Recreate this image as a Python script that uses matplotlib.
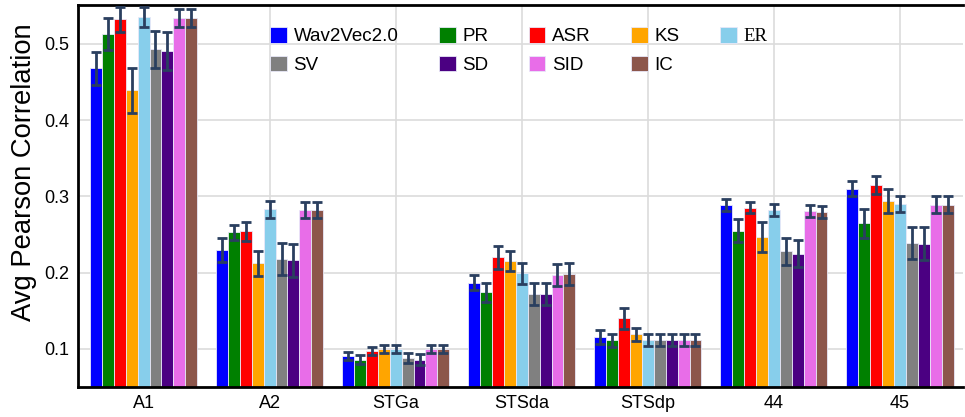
import matplotlib
matplotlib.use("Agg")
import matplotlib.pyplot as plt
import numpy as np

plt.rcParams["font.family"] = ["Liberation Sans", "DejaVu Sans"]

categories = ["A1", "A2", "STGa", "STSda", "STSdp", "44", "45"]
series_names = ["Wav2Vec2.0", "PR", "ASR", "KS", "ER", "SV", "SD", "SID", "IC"]
series_colors = ["#0000ff", "#008000", "#ff0000", "#ffa500", "#87ceeb",
                 "#808080", "#4b0082", "#e86de8", "#8c564b"]

wav2vec = [0.468, 0.230, 0.091, 0.187, 0.116, 0.289, 0.310]
pr = [0.513, 0.253, 0.086, 0.174, 0.111, 0.255, 0.265]
asr = [0.532, 0.254, 0.097, 0.220, 0.140, 0.285, 0.315]
ks = [0.439, 0.212, 0.100, 0.215, 0.119, 0.247, 0.294]
er = [0.535, 0.283, 0.100, 0.199, 0.112, 0.282, 0.290]
sv = [0.493, 0.218, 0.088, 0.172, 0.112, 0.228, 0.239]
sd = [0.491, 0.216, 0.086, 0.172, 0.112, 0.225, 0.238]
sid = [0.534, 0.282, 0.100, 0.197, 0.112, 0.281, 0.289]
ic = [0.534, 0.282, 0.100, 0.198, 0.112, 0.280, 0.289]

wav2vec_err = [0.022, 0.016, 0.005, 0.010, 0.009, 0.008, 0.010]
pr_err = [0.021, 0.010, 0.006, 0.012, 0.009, 0.015, 0.019]
asr_err = [0.017, 0.012, 0.005, 0.015, 0.014, 0.007, 0.012]
ks_err = [0.029, 0.017, 0.005, 0.013, 0.009, 0.020, 0.016]
er_err = [0.013, 0.011, 0.005, 0.014, 0.008, 0.008, 0.011]
sv_err = [0.024, 0.021, 0.006, 0.015, 0.008, 0.018, 0.021]
sd_err = [0.025, 0.022, 0.007, 0.015, 0.008, 0.018, 0.022]
sid_err = [0.012, 0.010, 0.005, 0.014, 0.008, 0.008, 0.011]
ic_err = [0.012, 0.011, 0.005, 0.014, 0.008, 0.008, 0.011]

values = [wav2vec, pr, asr, ks, er, sv, sd, sid, ic]
errors = [wav2vec_err, pr_err, asr_err, ks_err, er_err, sv_err, sd_err, sid_err, ic_err]

fig = plt.figure(figsize=(9.65, 4.17), dpi=100)
ax = fig.add_axes([78 / 965, 1 - 387 / 417, 885 / 965, 382 / 417])

x = np.arange(len(categories))
n = len(series_names)
width = 0.85 / n
handles = {}
for i, (name, color, vals, errs) in enumerate(zip(series_names, series_colors, values, errors)):
    pos = x - 0.425 + width * (i + 0.5)
    bars = ax.bar(pos, vals, width, color=color, edgecolor="#e8e8f8", linewidth=0.6,
                  label=name, zorder=2)
    ax.errorbar(pos, vals, yerr=errs, fmt="none", ecolor="#2a3f5f", elinewidth=2,
                capsize=3.6, capthick=2, zorder=3)
    handles[name] = bars

ax.set_xlim(-0.52, 6.5)
ax.set_ylim(0.05, 0.551)
ax.set_xticks(x)
ax.set_xticklabels(categories)
ax.set_yticks([0.1, 0.2, 0.3, 0.4, 0.5])
ax.set_yticklabels(["0.1", "0.2", "0.3", "0.4", "0.5"])
ax.tick_params(labelsize=13, length=0, pad=6)
ax.set_ylabel("Avg Pearson Correlation", fontsize=19.7)
ax.yaxis.set_label_coords(-0.046, 0.563)
ax.grid(True, color="#dcdcdc", linewidth=1.2, zorder=0)
ax.set_axisbelow(True)
for side in ["left", "top", "bottom"]:
    ax.spines[side].set_linewidth(2)
    ax.spines[side].set_color("black")
ax.spines["right"].set_visible(False)

# column-major fill so rows read left to right
order = ["Wav2Vec2.0", "SV", "PR", "SD", "ASR", "SID", "KS", "IC", "ER"]
leg = fig.legend([handles[k] for k in order], order, ncol=5, loc="upper left",
                 bbox_to_anchor=(270 / 965, 1 - 27 / 417), frameon=False,
                 fontsize=13.5, handlelength=0.9, handleheight=0.9,
                 handletextpad=0.35, columnspacing=2.15, labelspacing=0.55,
                 borderpad=0, borderaxespad=0)
for txt in leg.get_texts():
    if txt.get_text() == "ER":
        txt.set_fontfamily("Liberation Serif")

fig.savefig("out.png", dpi=100)
